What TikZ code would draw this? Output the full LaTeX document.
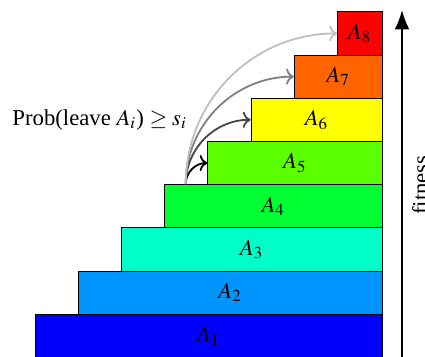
\documentclass[tikz,border=0pt]{standalone}
\usepackage{mathptmx}
\usepackage{fontspec}
\setmainfont{Liberation Serif}
\usetikzlibrary{arrows.meta}
\definecolor{c1}{RGB}{0,0,255}
\definecolor{c2}{RGB}{0,148,255}
\definecolor{c3}{RGB}{0,255,200}
\definecolor{c4}{RGB}{0,255,50}
\definecolor{c5}{RGB}{90,255,0}
\definecolor{c6}{RGB}{255,255,0}
\definecolor{c7}{RGB}{255,100,0}
\definecolor{c8}{RGB}{255,0,0}
\tikzset{
  stairbox/.style={draw=black, line width=0.4pt, rectangle, inner sep=0pt, minimum height=19pt},
  jump/.style={->, line width=0.8pt},
  fitarrow/.style={-{Latex[length=8.5pt,width=6.5pt]}, line width=0.8pt}
}
\begin{document}
\begin{tikzpicture}[x=0.44pt,y=0.44pt]
\useasboundingbox (0,0) rectangle (425,356);
\foreach \k in {1,...,8}{
  \pgfmathsetmacro{\lft}{35+(\k-1)*43.2}
  \pgfmathsetmacro{\cx}{(\lft+382)/2}
  \pgfmathsetmacro{\cy}{20.2+(\k-1)*43.2}
  \pgfmathsetmacro{\boxw}{(382-\lft)*0.44}
  \node[stairbox, fill=c\k, minimum width=\boxw pt] (a\k) at (\cx,\cy) {$A_{\k}$};
}
\coordinate (s) at ([xshift=21.6*0.44pt]a4.north west);
\draw[jump, black] (s) to[out=90,in=180] (a5.west);
\draw[jump, black!72] (s) to[out=90,in=180] (a6.west);
\draw[jump, black!50] (s) to[out=90,in=180] (a7.west);
\draw[jump, black!25] (s) to[out=90,in=180] (a8.west);
\node[anchor=base west, inner sep=0pt] (prob) at (12,231) {Prob(leave $A_i$) $\geq s_i$};
\coordinate (fb) at (402,-10);
\coordinate (ft) at (402,346);
\draw[fitarrow] (fb) -- (ft);
\node[rotate=90, anchor=base, inner sep=0pt] (fit) at (428,171) {fitness};
\end{tikzpicture}
\end{document}
